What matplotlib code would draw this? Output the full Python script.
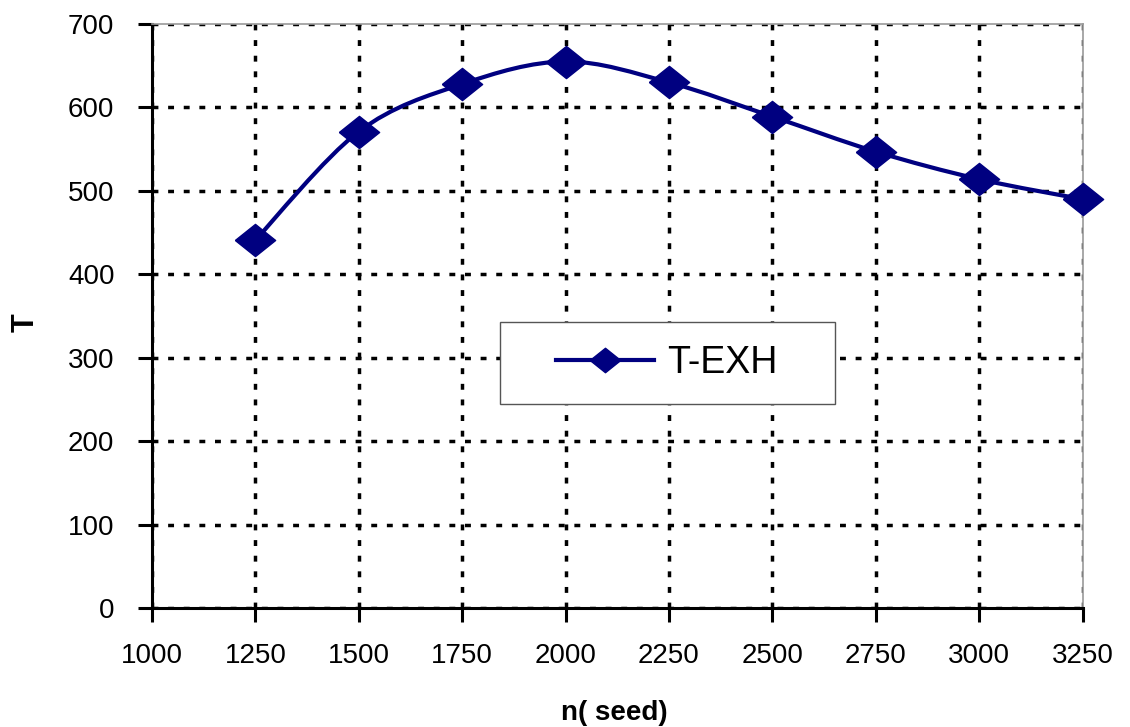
import numpy as np
import matplotlib.pyplot as plt
from matplotlib.path import Path
from matplotlib.patches import PathPatch, Rectangle

plt.rcParams['font.family'] = ['Liberation Sans', 'DejaVu Sans']

# engine speed vs exhaust temperature
speed = [1250, 1500, 1750, 2000, 2250, 2500, 2750, 3000, 3250]
t_exh = [441, 571, 628, 655, 630, 589, 547, 514, 490]
x_ticks = [1000, 1250, 1500, 1750, 2000, 2250, 2500, 2750, 3000, 3250]
y_ticks = [0, 100, 200, 300, 400, 500, 600, 700]

NAVY = '#000080'
diamond = [(-1, 0), (0, 0.8), (1, 0), (0, -0.8), (-1, 0)]


def smooth_path(x, y):
    """Catmull-Rom style bezier through the points (like a smoothed line)"""
    p = np.column_stack([x, y]).astype(float)
    n = len(p)
    verts = [p[0]]
    codes = [Path.MOVETO]
    for i in range(n - 1):
        p0 = p[i - 1] if i > 0 else p[i]
        p3 = p[i + 2] if i + 2 < n else p[i + 1]
        c1 = p[i] + (p[i + 1] - p0) / 6.0
        c2 = p[i + 1] - (p3 - p[i]) / 6.0
        verts += [c1, c2, p[i + 1]]
        codes += [Path.CURVE4] * 3
    return Path(verts, codes)


fig = plt.figure(figsize=(11.3, 7.27), dpi=100)
ax = fig.add_axes([0.1345, 0.1637, 0.8235, 0.8033])

ax.add_patch(PathPatch(smooth_path(speed, t_exh), facecolor='none',
                       edgecolor=NAVY, lw=3, zorder=3))
ax.plot(speed, t_exh, ls='none', marker=diamond, ms=29, color=NAVY,
        clip_on=False, zorder=4)

ax.set_xlim(1000, 3250)
ax.set_ylim(0, 700)
ax.set_xticks(x_ticks)
ax.set_yticks(y_ticks)
ax.tick_params(labelsize=20, length=10, width=2.2, direction='out')
ax.tick_params(axis='y', pad=17)
ax.tick_params(axis='x', pad=15)

ax.grid(True, color='black', lw=2.5, linestyle=(0, (1.7, 2.8)))
for s in ['left', 'bottom']:
    ax.spines[s].set_linewidth(2.2)
    ax.spines[s].set_color('black')
for s in ['top', 'right']:
    ax.spines[s].set_linewidth(1.2)
    ax.spines[s].set_color('#999999')

# legend box
ax.add_patch(Rectangle((0.374, 0.349), 0.36, 0.141, transform=ax.transAxes,
                       facecolor='white', edgecolor='#555555', lw=1, zorder=5))
handle = ax.plot([], [], color=NAVY, lw=3, marker=diamond, ms=22,
                 label='T-EXH')[0]
leg = ax.legend(handles=[handle], loc='center', bbox_to_anchor=(0.553, 0.4195),
                frameon=False, fontsize=27, handlelength=2.6,
                handletextpad=0.35)
leg.set_zorder(6)

ax.set_xlabel('n( seed)', fontsize=20, fontweight='bold')
ax.xaxis.set_label_coords(0.497, -0.157)
ax.set_ylabel('T', fontsize=22, fontweight='bold')
ax.yaxis.set_label_coords(-0.12, 0.488)

fig.savefig('out.png', dpi=100)
